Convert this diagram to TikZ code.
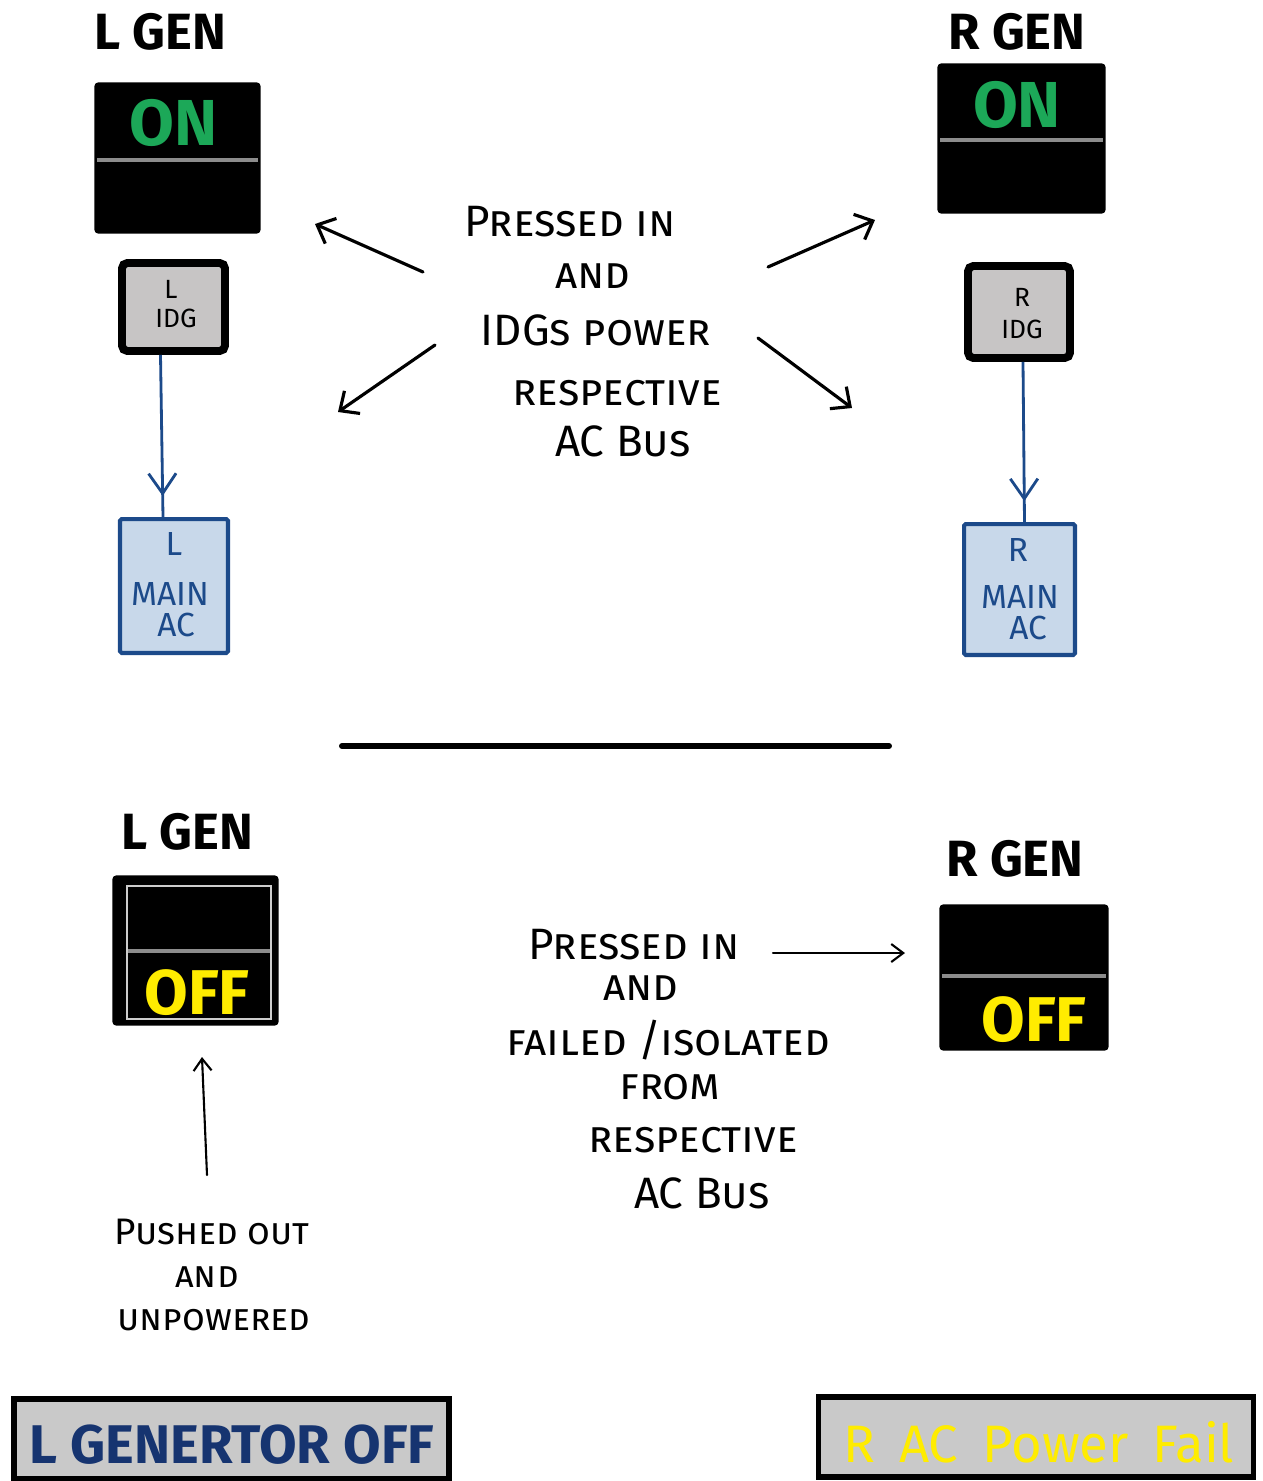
\documentclass[tikz,border=0pt]{standalone}
\usepackage{fontspec}
\setmainfont{Fira Sans}
\usetikzlibrary{arrows.meta,decorations.markings,calc}

\definecolor{ongreen}{RGB}{28,168,88}
\definecolor{offyellow}{RGB}{255,236,0}
\definecolor{busblue}{RGB}{28,74,138}
\definecolor{busfill}{RGB}{200,216,234}
\definecolor{idgfill}{RGB}{199,197,197}
\definecolor{annfill}{RGB}{201,201,201}
\definecolor{divgray}{RGB}{140,140,140}
\definecolor{annblue}{RGB}{22,52,112}

\tikzset{
  genlabel/.style={font=\fontsize{29}{30}\selectfont\bfseries, text=black, inner sep=0pt},
  switchbox/.style={draw=black, fill=black, line width=0.8pt, rounded corners=2pt, inner sep=0pt},
  divider/.style={draw=divgray, line width=2.2pt},
  ontext/.style={font=\fontsize{37}{38}\selectfont\bfseries, text=ongreen, inner sep=0pt},
  offtext/.style={font=\fontsize{36}{37}\selectfont\bfseries, text=offyellow, inner sep=0pt},
  idgbox/.style={draw=black, fill=idgfill, line width=4.5pt, rounded corners=3pt, inner sep=0pt},
  idgtext/.style={font=\fontsize{15}{16}\selectfont, text=black, inner sep=0pt},
  busbox/.style={draw=busblue, fill=busfill, line width=2.3pt, rounded corners=1pt, inner sep=0pt},
  bustext/.style={font=\fontsize{19}{20}\selectfont, text=busblue, inner sep=0pt},
  wire/.style={draw=busblue, line width=1.6pt, postaction={decorate},
    decoration={markings, mark=at position 0.87 with {\arrow{Straight Barb[length=4mm,width=5.5mm]}}}},
  hand/.style={font=\fontsize{25}{26}\selectfont\scshape, text=black, inner sep=0pt},
  smallhand/.style={font=\fontsize{21}{22}\selectfont\scshape, text=black, inner sep=0pt},
  pointer/.style={draw=black, line width=1.8pt, line cap=round, -{Straight Barb[length=3mm,width=5.5mm]}},
  thinpointer/.style={draw=black, line width=1.2pt, line cap=round, -{Straight Barb[length=2.4mm,width=3.6mm]}},
  annbox/.style={draw=black, fill=annfill, line width=3.2pt, inner sep=0pt},
}

\begin{document}
\begin{tikzpicture}[x=0.02cm, y=-0.02cm]
\useasboundingbox (0,0) rectangle (1263,1481);

% ---------------- upper half: both generators on line ----------------
\node[genlabel] (lgenA) at (160,32) {L GEN};
\node[genlabel] (rgenA) at (1017,32) {R GEN};

% left GEN switch
\node[switchbox, minimum width=3.3cm, minimum height=3.0cm] (lon) at (177.5,158) {};
\draw[divider] (97,160) -- (258,160);
\node[ontext] (lontxt) at (174,123) {ON};

% right GEN switch
\node[switchbox, minimum width=3.34cm, minimum height=2.98cm] (ron) at (1021.5,138.5) {};
\draw[divider] (940,140) -- (1103,140);
\node[ontext] (rontxt) at (1017,105) {ON};

% IDG boxes
\node[idgbox, minimum width=2.06cm, minimum height=1.76cm] (lidg) at (173.5,307) {};
\node[idgtext] (lidgL) at (171,289) {L};
\node[idgtext] (lidgI) at (176,318) {IDG};

\node[idgbox, minimum width=2.04cm, minimum height=1.84cm] (ridg) at (1019,312) {};
\node[idgtext] (ridgR) at (1022,297) {R};
\node[idgtext] (ridgI) at (1022,329) {IDG};

% main AC buses
\node[busbox, minimum width=2.16cm, minimum height=2.68cm] (lmain) at (174,586) {};
\node[bustext] (lmainL) at (174,544) {L};
\node[bustext] (lmainM) at (170,594) {MAIN};
\node[bustext] (lmainA) at (176,625) {AC};

\node[busbox, minimum width=2.22cm, minimum height=2.62cm] (rmain) at (1019.5,589.5) {};
\node[bustext] (rmainR) at (1018,550) {R};
\node[bustext] (rmainM) at (1020,597) {MAIN};
\node[bustext] (rmainA) at (1028,628) {AC};

% IDG feeders
\coordinate (lfeedA) at ($(lidg.south)+(-13,0)$);
\coordinate (lfeedB) at ($(lmain.north)+(-11,0)$);
\draw[wire] (lfeedA) -- (lfeedB);
\coordinate (rfeedA) at ($(ridg.south)+(4,0)$);
\coordinate (rfeedB) at ($(rmain.north)+(5,0)$);
\draw[wire] (rfeedA) -- (rfeedB);

% middle explanation
\node[hand] (m1) at (570,222) {Pressed in};
\node[hand] (m2) at (593,276) {and};
\node[hand] (m3) at (596,330) {IDGs power};
\node[hand] (m4) at (617,393) {respective};
\node[hand] (m5) at (623,441) {AC Bus};

\coordinate (ulA) at (423,272);  \coordinate (ulB) at (315,224);
\coordinate (llA) at (435,345);  \coordinate (llB) at (338,412);
\coordinate (urA) at (768,267);  \coordinate (urB) at (875,220);
\coordinate (lrA) at (758,338);  \coordinate (lrB) at (852,408);
\draw[pointer] (ulA) -- (ulB);
\draw[pointer] (llA) -- (llB);
\draw[pointer] (urA) -- (urB);
\draw[pointer] (lrA) -- (lrB);

% separator
\coordinate (sepA) at (342,746);
\coordinate (sepB) at (889,746);
\draw[line width=3.4pt, line cap=round] (sepA) -- (sepB);

% ---------------- lower half: generators off ----------------
\node[genlabel] (lgenB) at (187,832) {L GEN};
\node[genlabel] (rgenB) at (1015,859) {R GEN};

% left GEN switch, released
\node[switchbox, minimum width=3.3cm, minimum height=2.98cm] (loff) at (195.5,950.5) {};
\draw[draw=white!80!black, line width=1.6pt] (127,886) rectangle (271,1019);
\draw[divider] (128,951) -- (270,951);
\node[offtext] (lofftxt) at (197,993) {OFF};

% right GEN switch
\node[switchbox, minimum width=3.36cm, minimum height=2.9cm] (roff) at (1024,977.5) {};
\draw[divider] (942,976) -- (1106,976);
\node[offtext] (rofftxt) at (1034,1020) {OFF};

% left explanation
\node[smallhand] (p1) at (212,1232) {Pushed out};
\node[smallhand] (p2) at (207,1277) {and};
\node[smallhand] (p3) at (214,1320) {unpowered};
\coordinate (upA) at (207,1175);
\coordinate (upB) at (202,1057);
\draw[thinpointer] (upA) -- (upB);

% right explanation
\node[hand] (f1) at (634,945) {Pressed in};
\node[hand] (f2) at (641,988) {and};
\node[hand] (f3) at (668,1040) {failed /isolated};
\node[hand] (f4) at (670,1087) {from};
\node[hand] (f5) at (693,1140) {respective};
\node[hand] (f6) at (702,1193) {AC Bus};
\coordinate (rtA) at (773,953);
\coordinate (rtB) at (905,953);
\draw[thinpointer] (rtA) -- (rtB);

% EICAS messages
\node[annbox, minimum width=8.7cm, minimum height=1.6cm] (lmsg) at (231.5,1439) {};
\node[font=\fontsize{31}{32}\selectfont\bfseries, text=annblue, inner sep=0pt] (lmsgtxt) at (232,1445) {L GENERTOR OFF};

\node[annbox, minimum width=8.7cm, minimum height=1.6cm] (rmsg) at (1036,1437) {};
\node[font=\fontsize{30}{31}\selectfont, text=offyellow, inner sep=0pt] (rmsgtxt) at (1039,1442) {R\hspace{0.45em}AC\hspace{0.45em}Power\hspace{0.45em}Fail};
\end{tikzpicture}
\end{document}
